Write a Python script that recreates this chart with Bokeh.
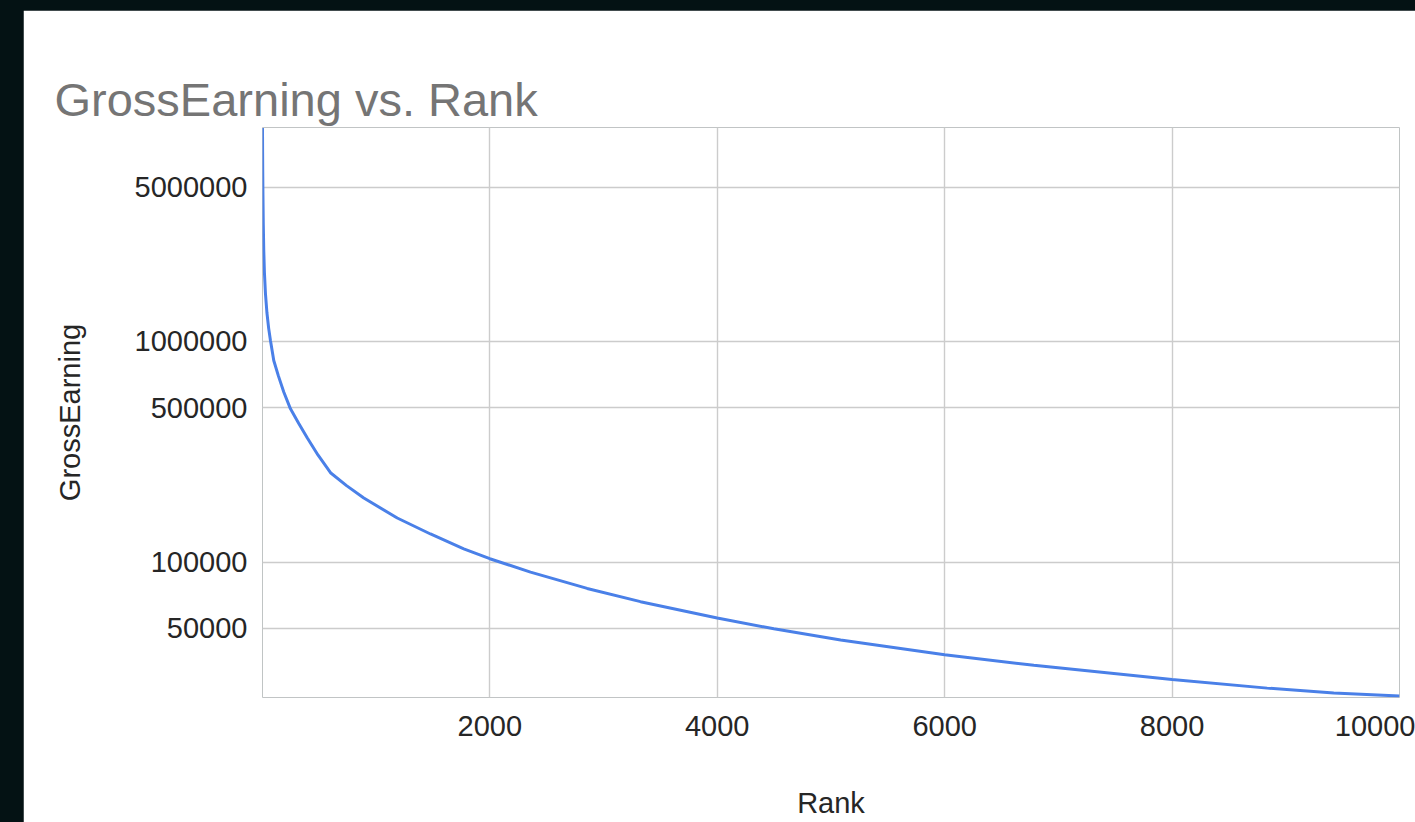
from bokeh.plotting import figure
from bokeh.models import (Range1d, FixedTicker, NumeralTickFormatter,
                          GlobalInlineStyleSheet, LinearAxis)
from bokeh.embed import file_html
from bokeh.resources import INLINE

# ---- data ----
rank = [1, 2, 3, 5, 8, 12, 18, 27, 40, 55, 71, 100, 140, 188, 247, 320, 394,
        490, 599, 740, 892, 1186, 1478, 1771, 2000, 2358, 2856, 3325, 4000,
        4498, 5085, 6000, 6784, 8000, 8836, 9422, 10000]
gross = [9300000, 7200000, 6000000, 4600000, 3400000, 2600000, 2050000,
         1650000, 1350000, 1150000, 1010000, 820000, 700000, 590000, 495000,
         425000, 366000, 305000, 254000, 222000, 195000, 158300, 134000,
         114800, 103500, 90000, 75900, 66100, 55700, 49800, 44300, 38000,
         34000, 29300, 26800, 25500, 24700]
x_ticks = [2000, 4000, 6000, 8000, 10000]
y_ticks = [50000, 100000, 500000, 1000000, 5000000]
title_text = "GrossEarning vs. Rank"

FONT = "Liberation Sans"

p = figure(width=1392, height=812, output_backend="svg", toolbar_location=None,
           y_axis_type="log",
           x_range=Range1d(1, 10000), y_range=Range1d(24300, 9340000),
           min_border_left=239, min_border_right=16,
           min_border_top=117, min_border_bottom=125)
p.margin = (10, 0, 0, 23)
p.stylesheets = [GlobalInlineStyleSheet(css="body{background:#041214;}")]
p.background_fill_color = "white"
p.border_fill_color = "white"
p.outline_line_color = None

xaxis = p.below[0]
yaxis = p.left[0]

# empty, tick-less axis above the plot area: only a spacer under the title
spacer = LinearAxis(ticker=FixedTicker(ticks=[]), axis_line_color=None,
                    major_tick_line_color="white", minor_tick_line_color="white",
                    major_tick_out=50, major_tick_in=0, minor_tick_out=0,
                    minor_tick_in=0, major_label_standoff=0)
p.add_layout(spacer, "above")

p.title.text = title_text
p.title.align = "left"
p.title.vertical_align = "top"
p.title.text_font = FONT
p.title.text_font_size = "47px"
p.title.text_font_style = "normal"
p.title.text_color = "#757575"
p.title.offset = -208
p.title.standoff = 0

p.line(rank, gross, line_width=3, line_color="#4a80e8")

for ax in (xaxis, yaxis):
    ax.axis_line_color = None
    ax.major_tick_line_color = None
    ax.minor_tick_line_color = None
    ax.major_label_text_font = FONT
    ax.major_label_text_font_size = "29px"
    ax.major_label_text_color = "#262626"
    ax.axis_label_text_font = FONT
    ax.axis_label_text_font_size = "29px"
    ax.axis_label_text_font_style = "normal"
    ax.axis_label_text_color = "#262626"

xaxis.ticker = FixedTicker(ticks=x_ticks)
yaxis.ticker = FixedTicker(ticks=y_ticks)
yaxis.formatter = NumeralTickFormatter(format="0")
xaxis.formatter = NumeralTickFormatter(format="0")
xaxis.axis_label = "Rank"
yaxis.axis_label = "GrossEarning"
xaxis.major_label_standoff = 12
yaxis.major_label_standoff = 9
xaxis.axis_label_standoff = 48
yaxis.axis_label_standoff = 46

p.xgrid.ticker = FixedTicker(ticks=x_ticks)
p.ygrid.ticker = FixedTicker(ticks=y_ticks)
p.xgrid.grid_line_color = "#cccccc"
p.ygrid.grid_line_color = "#cccccc"
p.xgrid.grid_line_width = 1.4
p.ygrid.grid_line_width = 1.4

open("out.html", "w").write(file_html(p, INLINE))
